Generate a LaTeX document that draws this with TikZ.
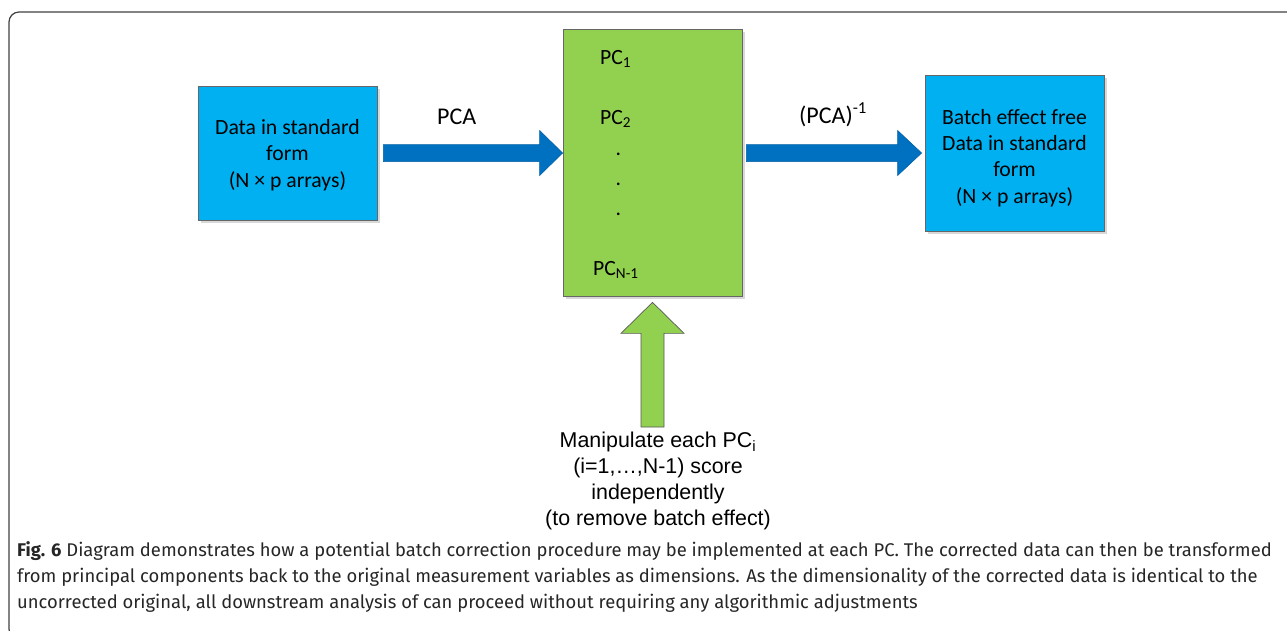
\documentclass[tikz,border=0pt]{standalone}
\usepackage{fontspec}
\setmainfont{Carlito}
\newfontfamily\arialfont{Liberation Sans}
\newfontfamily\capfont{Fira Sans}
\usepackage{xcolor}
\usepackage{tikz}
\usetikzlibrary{calc,shadows}

\definecolor{boxblue}{HTML}{00B0F0}
\definecolor{arrowblue}{HTML}{0070C0}
\definecolor{pcgreen}{HTML}{92D050}

\tikzset{
	box/.style={draw=black!60, line width=0.7pt, inner sep=0pt,
		drop shadow={shadow xshift=2.5pt, shadow yshift=-2.5pt, fill=black!30, opacity=0.5}},
	bluebox/.style={box, fill=boxblue, minimum width=179pt},
	boxtext/.style={inner sep=0pt, align=center},
	blockblue/.style={fill=arrowblue, draw=arrowblue!85!black, line width=0.5pt},
	blockgreen/.style={fill=pcgreen, draw=black!65, line width=0.7pt},
	lbl/.style={inner sep=0pt, anchor=base west},
	arrowlbl/.style={lbl, font=\fontsize{24}{28}\selectfont},
	caption/.style={inner sep=0pt, anchor=base west, text=black!85,
		font=\capfont\fontsize{18.4}{22}\selectfont},
}

\begin{document}
\begin{tikzpicture}[x=1pt, y=-1pt, font=\fontsize{21.7}{26.4}\selectfont]
	\useasboundingbox (0,0) rectangle (1287,630);
	% frame
	\draw[black!75, line width=1.2pt, rounded corners=10pt] (1300,12) -- (9,12) -- (9,639) -- (1300,639);

	% boxes
	\node[bluebox, minimum height=134pt] (data) at (287.5,153) {};
	\node[boxtext] (datatxt) at ($(data)+(0,2)$) {Data in standard\\form\\(N × p arrays)};
	\node[box, fill=pcgreen, minimum width=179pt, minimum height=267pt] (pcs) at (652.5,162.5) {};
	\node[bluebox, minimum height=156pt] (res) at (1014.5,153) {};
	\node[boxtext] (restxt) at ($(res)+(0,5)$) {Batch effect free\\Data in standard\\form\\(N × p arrays)};

	% PCs in the green box
	\path (600,64) node[lbl] (pc1) {PC\textsubscript{1}};
	\path (600,124) node[lbl] (pc2) {PC\textsubscript{2}};
	\foreach \y [count=\i] in {155,185,215}
		\path (615.5,\y) node[lbl] (dot\i) {.};
	\path (593,275) node[lbl] (pcn) {PC\textsubscript{N-1}};

	% PCA and inverse
	\draw[blockblue] ($(data.east)+(6,-8.5)$) -- ($(pcs.west|-data.east)+(-23,-8.5)$) -- ++(0,-14)
		-- (pcs.west|-data.east) -- ++(-23,22.5) -- ++(0,-14) -- ($(data.east)+(6,8.5)$) -- cycle;
	\path (437,124) node[arrowlbl] (pca) {PCA};
	\draw[blockblue] ($(pcs.east|-data.east)+(4,-8.5)$) -- ($(res.west|-data.east)+(-27,-8.5)$) -- ++(0,-14)
		-- ($(res.west|-data.east)+(-3,0)$) -- ++(-24,22.5) -- ++(0,-14) -- ($(pcs.east|-data.east)+(4,8.5)$) -- cycle;
	\path (799,123) node[arrowlbl] (ipca) {(PCA)\textsuperscript{-1}};

	% manipulation of each PC
	\node[inner sep=0pt, align=center, anchor=north, font=\arialfont\fontsize{21.4}{26}\selectfont] (manip) at (658,432)
		{Manipulate each PC\textsubscript{i}\\(i=1,…,N-1) score\\independently\\(to remove batch effect)};
	\draw[blockgreen] ($(pcs.south|-manip.north)+(-11.5,-5)$) -- ($(pcs.south)+(-11.5,37)$) -- ++(-20,0)
		-- ($(pcs.south)+(0,6)$) -- ++(31.5,31) -- ++(-20,0) -- ($(pcs.south|-manip.north)+(11.5,-5)$) -- cycle;

	% caption
	\node[caption] (cap1) at (17,556) {\textbf{Fig. 6} Diagram demonstrates how a potential batch correction procedure may be implemented at each PC. The corrected data can then be transformed};
	\node[caption] (cap2) at (17,582) {from principal components back to the original measurement variables as dimensions. As the dimensionality of the corrected data is identical to the};
	\node[caption] (cap3) at (17,608) {uncorrected original, all downstream analysis of can proceed without requiring any algorithmic adjustments};
\end{tikzpicture}
\end{document}
